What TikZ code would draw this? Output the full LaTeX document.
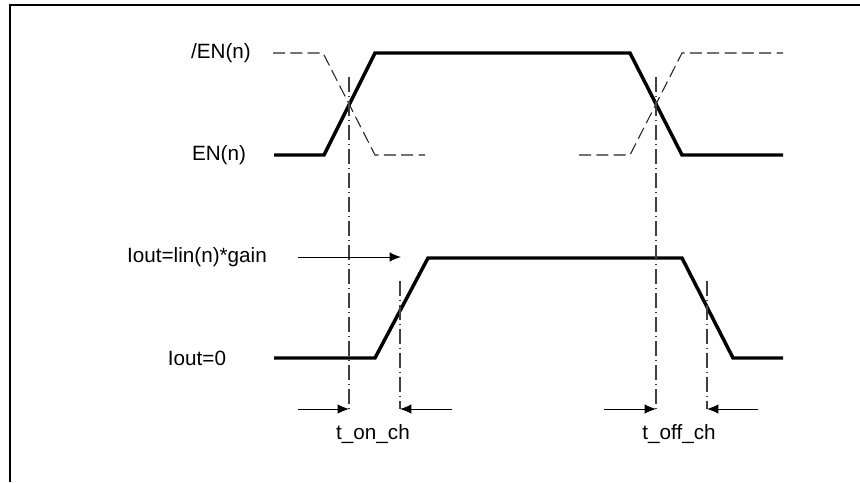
\documentclass[tikz,border=0pt]{standalone}
\usepackage{fontspec}
\setmainfont{Liberation Sans}
\usetikzlibrary{positioning,arrows.meta}

\tikzset{
	wave/.style={line width=2.6pt,line join=miter},
	invwave/.style={draw=black!85,line width=0.8pt,dash pattern=on 9pt off 4pt},
	tline/.style={draw=black!75,line width=0.8pt,dash pattern=on 11pt off 3pt on 1pt off 3pt},
	meas/.style={-{Latex[length=8.5pt,width=7pt]},line width=0.7pt},
	lbl/.style={inner sep=0pt,font=\fontsize{15.5}{18}\selectfont}
}

\begin{document}
\begin{tikzpicture}[x=0.75pt,y=-0.75pt]
		\useasboundingbox (0,0) rectangle (860,482);
		\draw[line width=1.8pt] (10,482) -- (10,5) -- (860,5);
		
		\node[lbl] (enb) at (221,53) {/EN(n)};
		\node[lbl] (en) at (219,155) {EN(n)};
		\node[lbl] (ion) at (197,257) {Iout=lin(n)*gain};
		\node[lbl] (ioff) at (197,358) {Iout=0};
		\node[lbl] (ton) at (373,434) {t\_on\_ch};
		\node[lbl] (toff) at (679,434) {t\_off\_ch};
		
		\draw[invwave] (273,53) -- (323,53) -- (375,155) -- (425,155);
		\draw[invwave] (579,155) -- (630,155) -- (682,53) -- (783,53);
		\draw[wave] (274,155) -- (324,155) -- (375,53) -- (630,53) -- (682,155) -- (783,155);
		\draw[wave] (274,358) -- (375,358) -- (428,258) -- (682,258) -- (733,358) -- (783,358);
		
		\coordinate (on1t) at (349,77);
		\coordinate (on1b) at (349,409);
		\coordinate (on2t) at (400,281);
		\coordinate (on2b) at (400,409);
		\coordinate (off1t) at (656,77);
		\coordinate (off1b) at (656,409);
		\coordinate (off2t) at (707,281);
		\coordinate (off2b) at (707,409);
		\draw[tline] (on1t) -- (on1b);
		\draw[tline] (on2t) -- (on2b);
		\draw[tline] (off1t) -- (off1b);
		\draw[tline] (off2t) -- (off2b);
		
		\coordinate (gainin) at (298,257);
		\coordinate (gainout) at (401,257);
		\coordinate (onl) at (298,409);
		\coordinate (onr) at (452,409);
		\coordinate (offl) at (604,409);
		\coordinate (offr) at (758,409);
		\draw[meas] (gainin) -- (gainout);
		\draw[meas] (onl) -- (on1b);
		\draw[meas] (onr) -- (on2b);
		\draw[meas] (offl) -- (off1b);
		\draw[meas] (offr) -- (off2b);
	\end{tikzpicture}
\end{document}
